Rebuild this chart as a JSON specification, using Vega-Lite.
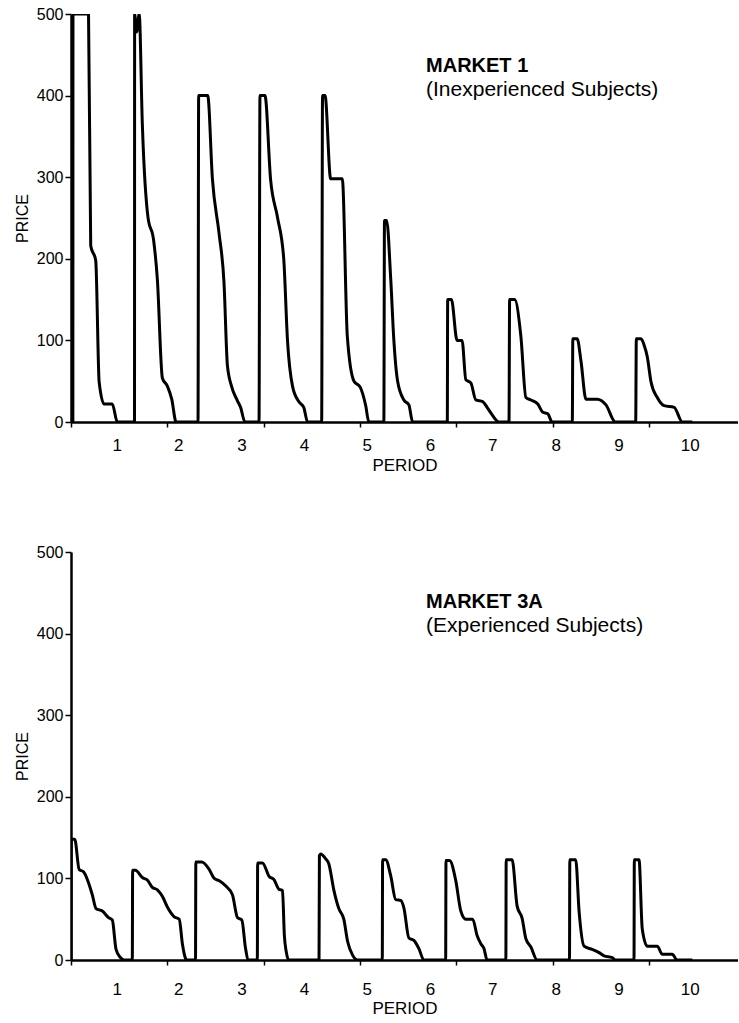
{
  "$schema": "https://vega.github.io/schema/vega-lite/v6.json",
  "padding": {"left": 14, "top": 6, "right": 0, "bottom": 0},
  "background": "white",
  "spacing": 71,
  "config": {
    "font": "Liberation Sans",
    "view": {"stroke": null},
    "axis": {"domainColor": "black", "tickColor": "black", "labelColor": "black", "titleColor": "black", "grid": false, "labelFont": "Liberation Sans", "titleFont": "Liberation Sans", "titleFontWeight": "normal"}
  },
  "datasets": {
    "m1": [
      {"t": 0.03, "p": 0}, {"t": 0.032, "p": 500}, {"t": 0.28, "p": 500}, {"t": 0.315, "p": 216}, {"t": 0.395, "p": 198}, {"t": 0.45, "p": 49}, {"t": 0.53, "p": 22}, {"t": 0.66, "p": 22}, {"t": 0.74, "p": 0},
      {"t": 1.015, "p": 0}, {"t": 1.017, "p": 500}, {"t": 1.05, "p": 478}, {"t": 1.09, "p": 500}, {"t": 1.14, "p": 365}, {"t": 1.23, "p": 251}, {"t": 1.32, "p": 223}, {"t": 1.38, "p": 175}, {"t": 1.46, "p": 54}, {"t": 1.54, "p": 44}, {"t": 1.61, "p": 28}, {"t": 1.68, "p": 0},
      {"t": 2.03, "p": 0}, {"t": 2.04, "p": 400}, {"t": 2.185, "p": 400}, {"t": 2.26, "p": 298}, {"t": 2.365, "p": 232}, {"t": 2.445, "p": 171}, {"t": 2.5, "p": 69}, {"t": 2.565, "p": 44}, {"t": 2.66, "p": 26}, {"t": 2.71, "p": 18}, {"t": 2.78, "p": 0},
      {"t": 3.005, "p": 0}, {"t": 3.02, "p": 400}, {"t": 3.1, "p": 400}, {"t": 3.19, "p": 297}, {"t": 3.3, "p": 251}, {"t": 3.4, "p": 200}, {"t": 3.46, "p": 100}, {"t": 3.54, "p": 44}, {"t": 3.64, "p": 25}, {"t": 3.72, "p": 18}, {"t": 3.78, "p": 0},
      {"t": 4.006, "p": 0}, {"t": 4.02, "p": 400}, {"t": 4.06, "p": 400}, {"t": 4.15, "p": 298}, {"t": 4.336, "p": 298}, {"t": 4.416, "p": 105}, {"t": 4.523, "p": 50}, {"t": 4.62, "p": 43}, {"t": 4.71, "p": 20}, {"t": 4.76, "p": 0},
      {"t": 5.0, "p": 0}, {"t": 5.01, "p": 247}, {"t": 5.045, "p": 247}, {"t": 5.11, "p": 175}, {"t": 5.16, "p": 100}, {"t": 5.22, "p": 50}, {"t": 5.32, "p": 27}, {"t": 5.4, "p": 21}, {"t": 5.46, "p": 0},
      {"t": 6.014, "p": 0}, {"t": 6.02, "p": 150}, {"t": 6.08, "p": 150}, {"t": 6.17, "p": 100}, {"t": 6.25, "p": 100}, {"t": 6.31, "p": 52}, {"t": 6.39, "p": 48}, {"t": 6.47, "p": 27}, {"t": 6.58, "p": 25}, {"t": 6.65, "p": 18}, {"t": 6.72, "p": 10}, {"t": 6.84, "p": 0},
      {"t": 7.0, "p": 0}, {"t": 7.01, "p": 150}, {"t": 7.09, "p": 150}, {"t": 7.19, "p": 105}, {"t": 7.27, "p": 30}, {"t": 7.35, "p": 27}, {"t": 7.46, "p": 22}, {"t": 7.54, "p": 12}, {"t": 7.62, "p": 10}, {"t": 7.69, "p": 0},
      {"t": 8.012, "p": 0}, {"t": 8.02, "p": 102}, {"t": 8.09, "p": 102}, {"t": 8.15, "p": 75}, {"t": 8.23, "p": 28}, {"t": 8.41, "p": 28}, {"t": 8.55, "p": 21}, {"t": 8.7, "p": 0},
      {"t": 9.025, "p": 0}, {"t": 9.035, "p": 102}, {"t": 9.11, "p": 102}, {"t": 9.16, "p": 94}, {"t": 9.21, "p": 80}, {"t": 9.27, "p": 49}, {"t": 9.37, "p": 30}, {"t": 9.48, "p": 20}, {"t": 9.64, "p": 18}, {"t": 9.77, "p": 0}, {"t": 9.93, "p": 0}
    ],
    "m3a": [
      {"t": 0.0, "p": 0}, {"t": 0.005, "p": 148}, {"t": 0.06, "p": 148}, {"t": 0.13, "p": 111}, {"t": 0.2, "p": 108}, {"t": 0.34, "p": 80}, {"t": 0.4, "p": 63}, {"t": 0.5, "p": 60}, {"t": 0.6, "p": 52}, {"t": 0.66, "p": 49}, {"t": 0.72, "p": 13}, {"t": 0.79, "p": 3}, {"t": 0.85, "p": 0},
      {"t": 0.98, "p": 0}, {"t": 0.985, "p": 110}, {"t": 1.03, "p": 110}, {"t": 1.14, "p": 101}, {"t": 1.22, "p": 98}, {"t": 1.3, "p": 89}, {"t": 1.38, "p": 86}, {"t": 1.46, "p": 78}, {"t": 1.54, "p": 65}, {"t": 1.65, "p": 53}, {"t": 1.73, "p": 50}, {"t": 1.78, "p": 20}, {"t": 1.83, "p": 2}, {"t": 1.85, "p": 0},
      {"t": 1.99, "p": 0}, {"t": 1.995, "p": 120}, {"t": 2.09, "p": 120}, {"t": 2.2, "p": 112}, {"t": 2.29, "p": 100}, {"t": 2.37, "p": 97}, {"t": 2.47, "p": 91}, {"t": 2.58, "p": 80}, {"t": 2.66, "p": 52}, {"t": 2.73, "p": 49}, {"t": 2.79, "p": 14}, {"t": 2.83, "p": 0},
      {"t": 2.978, "p": 0}, {"t": 2.983, "p": 119}, {"t": 3.06, "p": 119}, {"t": 3.17, "p": 102}, {"t": 3.24, "p": 99}, {"t": 3.32, "p": 87}, {"t": 3.38, "p": 85}, {"t": 3.41, "p": 30}, {"t": 3.44, "p": 10}, {"t": 3.48, "p": 0},
      {"t": 3.964, "p": 0}, {"t": 3.97, "p": 128}, {"t": 3.99, "p": 130}, {"t": 4.07, "p": 124}, {"t": 4.12, "p": 118}, {"t": 4.2, "p": 86}, {"t": 4.28, "p": 63}, {"t": 4.36, "p": 50}, {"t": 4.42, "p": 23}, {"t": 4.5, "p": 6}, {"t": 4.58, "p": 0},
      {"t": 4.975, "p": 0}, {"t": 4.98, "p": 123}, {"t": 5.03, "p": 123}, {"t": 5.11, "p": 103}, {"t": 5.19, "p": 74}, {"t": 5.27, "p": 73}, {"t": 5.32, "p": 64}, {"t": 5.4, "p": 27}, {"t": 5.48, "p": 24}, {"t": 5.56, "p": 14}, {"t": 5.64, "p": 0},
      {"t": 5.988, "p": 0}, {"t": 5.993, "p": 122}, {"t": 6.05, "p": 122}, {"t": 6.15, "p": 97}, {"t": 6.23, "p": 60}, {"t": 6.31, "p": 50}, {"t": 6.42, "p": 50}, {"t": 6.49, "p": 30}, {"t": 6.55, "p": 20}, {"t": 6.6, "p": 14}, {"t": 6.65, "p": 0},
      {"t": 6.95, "p": 0}, {"t": 6.955, "p": 123}, {"t": 7.05, "p": 123}, {"t": 7.13, "p": 66}, {"t": 7.21, "p": 51}, {"t": 7.27, "p": 26}, {"t": 7.35, "p": 16}, {"t": 7.45, "p": 0},
      {"t": 7.967, "p": 0}, {"t": 7.972, "p": 123}, {"t": 8.066, "p": 123}, {"t": 8.12, "p": 60}, {"t": 8.2, "p": 17}, {"t": 8.33, "p": 13}, {"t": 8.44, "p": 9}, {"t": 8.52, "p": 5}, {"t": 8.65, "p": 3}, {"t": 8.7, "p": 0},
      {"t": 8.998, "p": 0}, {"t": 9.003, "p": 123}, {"t": 9.078, "p": 123}, {"t": 9.13, "p": 38}, {"t": 9.21, "p": 17}, {"t": 9.37, "p": 17}, {"t": 9.45, "p": 7}, {"t": 9.61, "p": 7}, {"t": 9.685, "p": 0}, {"t": 9.93, "p": 0}
    ]
  },
  "vconcat": [
    {
      "width": 667,
      "height": 408,
      "resolve": {"axis": {"x": "independent", "y": "independent"}},
      "layer": [
        {
          "data": {"name": "m1"},
          "mark": {"type": "line", "color": "black", "strokeWidth": 3, "strokeJoin": "round", "interpolate": "monotone", "clip": true},
          "encoding": {
            "x": {"field": "t", "type": "quantitative", "scale": {"domain": [0, 10.66], "nice": false, "zero": false},
              "axis": {"orient": "bottom", "values": [0, 1.54, 3.08, 4.62, 6.16, 7.7, 9.24], "labels": false, "title": null, "tickSize": 5, "tickWidth": 1.5, "domainWidth": 2.5}},
            "y": {"field": "p", "type": "quantitative", "scale": {"domain": [0, 500], "nice": false},
              "axis": {"orient": "left", "values": [0, 100, 200, 300, 400, 500], "title": "PRICE", "titleFontSize": 16, "labelFontSize": 16, "tickSize": 6, "tickWidth": 1.5, "domainWidth": 2.5, "labelPadding": 2, "titlePadding": 6}}
          }
        },
        {
          "mark": {"type": "rule", "strokeWidth": 3, "color": "black"},
          "encoding": {"y": {"datum": 500, "type": "quantitative", "axis": null}}
        },
        {
          "data": {"values": [{"x": 5.674, "y": 428.6, "label": "MARKET 1"}]},
          "mark": {"type": "text", "align": "left", "baseline": "alphabetic", "fontSize": 20, "fontWeight": "bold", "color": "black"},
          "encoding": {
            "x": {"field": "x", "type": "quantitative", "scale": {"domain": [0, 10.66], "nice": false, "zero": false},
              "axis": {"orient": "bottom", "values": [0.73, 1.715, 2.726, 3.724, 4.726, 5.736, 6.732, 7.747, 8.75, 9.89], "labelExpr": "round(datum.value)", "ticks": false, "domain": false, "labelFontSize": 17, "labelPadding": 15, "title": "PERIOD", "titleFontSize": 17, "titlePadding": 4}},
            "y": {"field": "y", "type": "quantitative", "axis": null},
            "text": {"field": "label"}
          }
        },
        {
          "data": {"values": [{"x": 5.674, "y": 399, "label": "(Inexperienced Subjects)"}]},
          "mark": {"type": "text", "align": "left", "baseline": "alphabetic", "fontSize": 21, "color": "black"},
          "encoding": {
            "x": {"field": "x", "type": "quantitative", "axis": null},
            "y": {"field": "y", "type": "quantitative", "axis": null},
            "text": {"field": "label"}
          }
        }
      ]
    },
    {
      "width": 667,
      "height": 408,
      "resolve": {"axis": {"x": "independent", "y": "independent"}},
      "layer": [
        {
          "data": {"name": "m3a"},
          "mark": {"type": "line", "color": "black", "strokeWidth": 3, "strokeJoin": "round", "interpolate": "monotone", "clip": true},
          "encoding": {
            "x": {"field": "t", "type": "quantitative", "scale": {"domain": [0, 10.66], "nice": false, "zero": false},
              "axis": {"orient": "bottom", "values": [0, 1.54, 3.08, 4.62, 6.16, 7.7, 9.24], "labels": false, "title": null, "tickSize": 5, "tickWidth": 1.5, "domainWidth": 2.5}},
            "y": {"field": "p", "type": "quantitative", "scale": {"domain": [0, 500], "nice": false},
              "axis": {"orient": "left", "values": [0, 100, 200, 300, 400, 500], "title": "PRICE", "titleFontSize": 16, "labelFontSize": 16, "tickSize": 6, "tickWidth": 1.5, "domainWidth": 2.5, "labelPadding": 2, "titlePadding": 6}}
          }
        },
        {
          "mark": {"type": "rule", "strokeWidth": 3, "color": "black"},
          "encoding": {"y": {"datum": 500, "type": "quantitative", "axis": null}}
        },
        {
          "data": {"values": [{"x": 5.674, "y": 430.8, "label": "MARKET 3A"}]},
          "mark": {"type": "text", "align": "left", "baseline": "alphabetic", "fontSize": 20, "fontWeight": "bold", "color": "black"},
          "encoding": {
            "x": {"field": "x", "type": "quantitative", "scale": {"domain": [0, 10.66], "nice": false, "zero": false},
              "axis": {"orient": "bottom", "values": [0.73, 1.715, 2.726, 3.724, 4.726, 5.736, 6.732, 7.747, 8.75, 9.89], "labelExpr": "round(datum.value)", "ticks": false, "domain": false, "labelFontSize": 17, "labelPadding": 21, "title": "PERIOD", "titleFontSize": 17, "titlePadding": 3}},
            "y": {"field": "y", "type": "quantitative", "axis": null},
            "text": {"field": "label"}
          }
        },
        {
          "data": {"values": [{"x": 5.674, "y": 402, "label": "(Experienced Subjects)"}]},
          "mark": {"type": "text", "align": "left", "baseline": "alphabetic", "fontSize": 21, "color": "black"},
          "encoding": {
            "x": {"field": "x", "type": "quantitative", "axis": null},
            "y": {"field": "y", "type": "quantitative", "axis": null},
            "text": {"field": "label"}
          }
        }
      ]
    }
  ]
}
